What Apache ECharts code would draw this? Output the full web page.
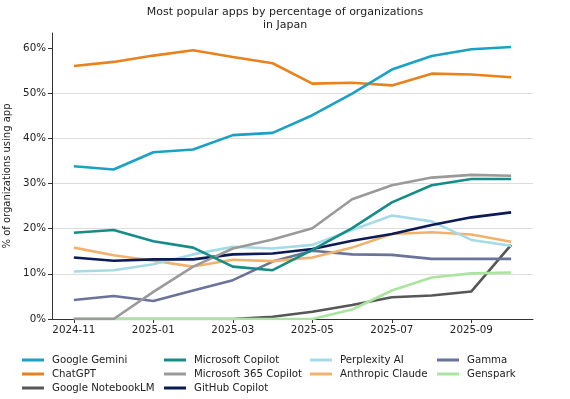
<!DOCTYPE html>
<html>
<head>
<meta charset="utf-8">
<script src="https://cdn.jsdelivr.net/npm/echarts@6/dist/echarts.min.js"></script>
<style>
  html, body { margin: 0; padding: 0; background: #fff; }
  #chart { width: 570px; height: 399px; }
</style>
</head>
<body>
<div id="chart"></div>
<script>
// months on the x axis
const months = ['2024-11', '2024-12', '2025-01', '2025-02', '2025-03', '2025-04',
  '2025-05', '2025-06', '2025-07', '2025-08', '2025-09', '2025-10'];
const tickMonths = [0, 2, 4, 6, 8, 10];
const yTicks = [0, 10, 20, 30, 40, 50, 60];

// % of organizations using each app
const gemini = [33.8, 33.1, 36.9, 37.5, 40.7, 41.2, 45.1, 49.9, 55.2, 58.2, 59.7, 60.2];
const chatgpt = [56.0, 56.9, 58.3, 59.5, 58.0, 56.6, 52.1, 52.3, 51.7, 54.3, 54.1, 53.5];
const notebookLM = [0, 0, 0, 0, 0, 0.5, 1.6, 3.1, 4.8, 5.2, 6.1, 16.4];
const msCopilot = [19.1, 19.7, 17.2, 15.8, 11.6, 10.8, 15.3, 20.1, 25.8, 29.6, 31.0, 31.0];
const ms365Copilot = [0, 0, 6.0, 11.6, 15.6, 17.6, 20.1, 26.5, 29.6, 31.3, 31.9, 31.7];
const githubCopilot = [13.6, 12.9, 13.2, 13.2, 14.3, 14.5, 15.5, 17.3, 18.8, 20.8, 22.5, 23.6];
const perplexity = [10.5, 10.8, 12.1, 14.3, 16.0, 15.6, 16.4, 19.7, 22.9, 21.6, 17.5, 16.2];
const claude = [15.8, 14.1, 12.9, 11.6, 13.1, 12.8, 13.6, 15.8, 18.8, 19.2, 18.7, 17.1];
const gamma = [4.2, 5.1, 4.0, 6.3, 8.6, 12.7, 15.1, 14.3, 14.2, 13.3, 13.3, 13.3];
const genspark = [0, 0, 0, 0, 0, 0, 0, 2.1, 6.3, 9.2, 10.1, 10.3];

const seriesDefs = [
  {name: 'Google Gemini', data: gemini, color: '#1aa1c4'},
  {name: 'ChatGPT', data: chatgpt, color: '#e8821c'},
  {name: 'Google NotebookLM', data: notebookLM, color: '#575757'},
  {name: 'Microsoft Copilot', data: msCopilot, color: '#168c86'},
  {name: 'Microsoft 365 Copilot', data: ms365Copilot, color: '#9a9a9a'},
  {name: 'GitHub Copilot', data: githubCopilot, color: '#0c1a55'},
  {name: 'Perplexity AI', data: perplexity, color: '#a5dbe7'},
  {name: 'Anthropic Claude', data: claude, color: '#f3b26c'},
  {name: 'Gamma', data: gamma, color: '#6a7399'},
  {name: 'Genspark', data: genspark, color: '#a9e59e'}
];

// draw order: light ones below, main ones on top
const drawOrder = ['Google NotebookLM', 'Genspark', 'Gamma', 'Anthropic Claude', 'Perplexity AI',
  'GitHub Copilot', 'Microsoft 365 Copilot', 'Microsoft Copilot', 'ChatGPT', 'Google Gemini'];

const font = 'DejaVu Sans';
const chart = echarts.init(document.getElementById('chart'), null, {renderer: 'canvas'});

const series = seriesDefs.map(s => ({
  name: s.name,
  type: 'line',
  data: s.data.map((v, i) => [i, v]),
  symbol: 'none',
  lineStyle: {width: 2.6, color: s.color},
  itemStyle: {color: s.color},
  z: 2 + drawOrder.indexOf(s.name),
  animation: false
}));

const legendCols = [
  {left: 22, names: ['Google Gemini', 'ChatGPT', 'Google NotebookLM']},
  {left: 164, names: ['Microsoft Copilot', 'Microsoft 365 Copilot', 'GitHub Copilot']},
  {left: 310, names: ['Perplexity AI', 'Anthropic Claude']},
  {left: 437, names: ['Gamma', 'Genspark']}
];

chart.setOption({
  backgroundColor: '#fff',
  animation: false,
  title: {
    text: 'Most popular apps by percentage of organizations\nin Japan',
    left: 'center',
    top: 1,
    textStyle: {fontFamily: font, fontSize: 11, fontWeight: 'normal', color: '#222', lineHeight: 13}
  },
  legend: legendCols.map(c => ({
    orient: 'vertical',
    left: c.left,
    top: 355,
    height: 60,
    padding: 0,
    itemWidth: 22,
    itemHeight: 3,
    itemGap: 4,
    icon: 'rect',
    data: c.names,
    selectedMode: false,
    textStyle: {fontFamily: font, fontSize: 10.2, color: '#222', padding: [0, 0, 0, 3]}
  })),
  grid: {left: 52, right: 37, top: 33, bottom: 80, containLabel: false, outerBoundsMode: 'none'},
  xAxis: {
    type: 'value',
    min: -0.55,
    max: 11.55,
    splitLine: {show: false},
    axisLine: {onZero: false, lineStyle: {color: '#333', width: 1}},
    axisTick: {customValues: tickMonths, length: 4, lineStyle: {color: '#333'}},
    axisLabel: {
      customValues: tickMonths,
      formatter: v => months[Math.round(v)],
      fontFamily: font, fontSize: 10.3, color: '#222', margin: 6
    }
  },
  yAxis: {
    type: 'value',
    min: 0,
    max: 63.3,
    name: '% of organizations using app',
    nameLocation: 'middle',
    nameRotate: 90,
    nameGap: 39,
    nameTextStyle: {fontFamily: font, fontSize: 10, color: '#222'},
    axisLine: {show: true, onZero: false, lineStyle: {color: '#333', width: 1}},
    axisTick: {show: true, customValues: yTicks, length: 4, lineStyle: {color: '#333'}},
    axisLabel: {
      customValues: yTicks,
      formatter: v => Math.round(v) + '%',
      fontFamily: font, fontSize: 10.3, color: '#222', margin: 6
    },
    splitLine: {show: true, showMinLine: false, showMaxLine: false, lineStyle: {color: '#dddddd', width: 1}},
    interval: 10
  },
  series: series
});
</script>
</body>
</html>
